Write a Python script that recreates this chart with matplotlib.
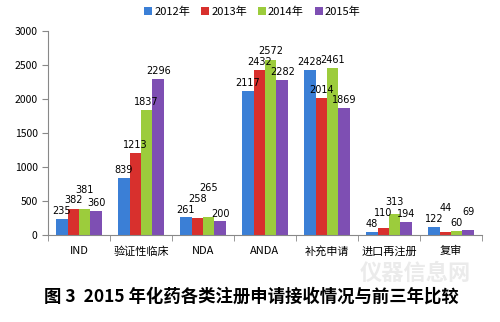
import numpy as np
import matplotlib
matplotlib.use("Agg")
import matplotlib.pyplot as plt

plt.rcParams['font.family'] = ['Noto Sans CJK SC', 'DejaVu Sans']

categories = ['IND', '验证性临床', 'NDA', 'ANDA', '补充申请', '进口再注册', '复审']
years = ['2012年', '2013年', '2014年', '2015年']
v2012 = [235, 839, 261, 2117, 2428, 48, 122]
v2013 = [382, 1213, 258, 2432, 2014, 110, 44]
v2014 = [381, 1837, 265, 2572, 2461, 313, 60]
v2015 = [360, 2296, 200, 2282, 1869, 194, 69]
colors = ['#3b7fd6', '#d8302d', '#9ccc3c', '#7e4fb3']

fig = plt.figure(figsize=(5, 3.22), dpi=100)
ax = fig.add_axes([0.096, 0.27, 0.868, 0.634])

x = np.arange(len(categories))
w = 0.185
series = [v2012, v2013, v2014, v2015]
for i, (vals, c, lab) in enumerate(zip(series, colors, years)):
    ax.bar(x + (i - 1.5) * w, vals, w, color=c, label=lab, edgecolor='none')

# value labels: lift a label when it would sit on its left neighbour
h = 160
for j in range(len(categories)):
    prev = None
    for i, vals in enumerate(series):
        y = vals[j] + 40
        if prev is not None and abs(y - prev) < h:
            y = prev + h
        ax.text(x[j] + (i - 1.5) * w, y, str(vals[j]), ha='center', va='bottom',
                fontsize=7, family='DejaVu Sans')
        prev = y

ax.set_xlim(-0.5, len(categories) - 0.5)
ax.set_ylim(0, 3000)
ax.set_yticks(range(0, 3001, 500))
ax.set_xticks(x)
ax.set_xticklabels(categories, fontsize=8)
ax.set_xticks(np.arange(-0.5, len(categories), 1), minor=True)
ax.tick_params(axis='x', which='major', length=0, pad=8)
ax.tick_params(axis='x', which='minor', length=4, color='#888888')
ax.tick_params(axis='y', labelsize=7.5, length=4, color='#888888')
for s in ['top', 'right']:
    ax.spines[s].set_visible(False)
for s in ['left', 'bottom']:
    ax.spines[s].set_color('#888888')

ax.legend(loc='center', bbox_to_anchor=(0.471, 1.093), ncol=4, frameon=False,
          fontsize=8, handlelength=0.7, handleheight=0.7, handletextpad=0.2,
          columnspacing=1.0)

fig.text(0.83, 0.15, '仪器信息网', ha='center', va='center', fontsize=16,
         color='#ebebeb', fontweight='bold', style='italic', zorder=0)
fig.text(0.503, 0.078, '图 3  2015 年化药各类注册申请接收情况与前三年比较', ha='center',
         va='center', fontsize=12.5, fontweight='bold')

fig.savefig('out.png', dpi=100)
